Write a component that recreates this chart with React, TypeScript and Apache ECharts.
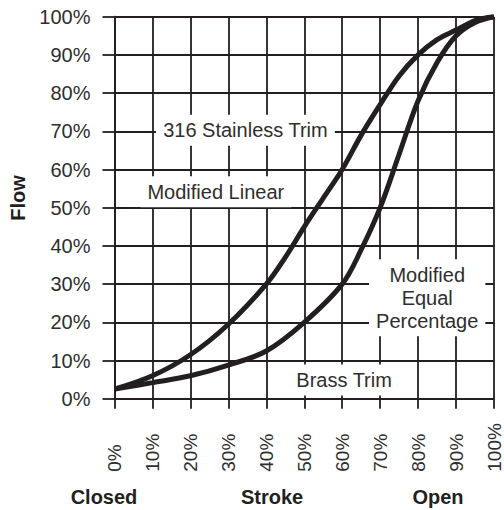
import React, { useEffect, useRef } from 'react';
import * as echarts from 'echarts';

// Modified Linear / 316 Stainless Trim curve
const linearStroke = [0, 10, 20, 30, 40, 45, 50, 55, 60, 65, 70, 75, 80, 85, 90, 95, 100];
const linearFlow = [2.5, 6, 11.5, 19.5, 30, 37, 45, 52.5, 60, 69, 77, 84.5, 90, 94, 96.5, 99, 100];

// Modified Equal Percentage / Brass Trim curve
const equalStroke = [0, 10, 20, 30, 40, 50, 60, 65, 70, 75, 80, 85, 90, 95, 100];
const equalFlow = [2.5, 4.2, 6, 8.8, 12.5, 20, 30, 39, 50, 64, 78, 88, 95, 98.5, 100];

// Annotations (data coordinates: stroke %, flow %)
const annotationText = ['316 Stainless Trim', 'Modified Linear', 'Modified\nEqual\nPercentage', 'Brass Trim'];
const annotationX = [34.5, 26.7, 82.4, 60.5];
const annotationY = [70.3, 54.2, 26.4, 4.9];

// Axis ticks
const axisMin = 0;
const axisMax = 100;
const axisStep = 10;

const bottomLabels = ['Closed', 'Stroke', 'Open'];
const bottomLabelX = [104, 272, 438];

const INK = '#231f20';
const TEXT = '#2e2e2e';
const FONT = '"Liberation Sans", Arial, Helvetica, sans-serif';

export default function App() {
  const ref = useRef<HTMLDivElement>(null);

  useEffect(() => {
    if (!ref.current) return;
    const chart = echarts.init(ref.current, undefined, { renderer: 'svg' });

    const lineStyle = { color: INK, width: 1.8 };

    const fixedGraphics: any[] = [
      {
        type: 'text',
        x: 18,
        y: 198,
        rotation: Math.PI / 2,
        style: {
          text: 'Flow',
          fontFamily: FONT,
          fontSize: 20,
          fontWeight: 'bold',
          fill: INK,
          align: 'center',
          verticalAlign: 'middle',
        },
      },
      ...bottomLabels.map((t, i) => ({
        type: 'text',
        x: bottomLabelX[i],
        y: 497,
        style: {
          text: t,
          fontFamily: FONT,
          fontSize: 20,
          fontWeight: 'bold',
          fill: INK,
          align: 'center',
          verticalAlign: 'middle',
        },
      })),
    ];

    const option: any = {
      animation: false,
      backgroundColor: '#ffffff',
      grid: { left: 114.5, right: 10, top: 16.7, bottom: 111.3, containLabel: false, outerBoundsMode: 'none' },
      xAxis: {
        type: 'value',
        min: axisMin,
        max: axisMax,
        interval: axisStep,
        axisLine: { show: true, lineStyle },
        axisTick: { show: true, length: 10, inside: false, lineStyle },
        splitLine: { show: true, lineStyle },
        axisLabel: {
          rotate: 90,
          align: 'left',
          verticalAlign: 'middle',
          margin: 73,
          lineHeight: 15,
          formatter: '{value}%',
          fontFamily: FONT,
          fontSize: 19,
          color: TEXT,
        },
      },
      yAxis: {
        type: 'value',
        min: axisMin,
        max: axisMax,
        interval: axisStep,
        axisLine: { show: true, lineStyle },
        axisTick: { show: true, length: 12, inside: false, lineStyle },
        splitLine: { show: true, lineStyle },
        axisLabel: {
          margin: 24,
          formatter: '{value}%',
          fontFamily: FONT,
          fontSize: 20,
          color: TEXT,
        },
      },
      series: [
        {
          type: 'line',
          name: 'Modified Linear',
          data: linearStroke.map((s, i) => [s, linearFlow[i]]),
          smooth: 0.35,
          showSymbol: false,
          symbol: 'none',
          lineStyle: { color: INK, width: 5 },
          z: 3,
        },
        {
          type: 'line',
          name: 'Modified Equal Percentage',
          data: equalStroke.map((s, i) => [s, equalFlow[i]]),
          smooth: 0.35,
          showSymbol: false,
          symbol: 'none',
          lineStyle: { color: INK, width: 5 },
          z: 3,
        },
      ],
      graphic: fixedGraphics,
    };

    chart.setOption(option);

    const annotationGraphics = annotationText.map((t, i) => {
      const p = chart.convertToPixel({ gridIndex: 0 }, [annotationX[i], annotationY[i]]) as number[];
      return {
        type: 'text',
        x: p[0],
        y: p[1],
        z: 100,
        style: {
          text: t,
          fontFamily: FONT,
          fontSize: 20,
          lineHeight: 23,
          fill: TEXT,
          backgroundColor: '#ffffff',
          padding: [4, 7],
          align: 'center',
          verticalAlign: 'middle',
        },
      };
    });

    chart.setOption({ graphic: [...fixedGraphics, ...annotationGraphics] });

    return () => chart.dispose();
  }, []);

  return (
    <div
      ref={ref}
      style={{ position: 'fixed', left: 0, top: 0, width: 504, height: 510, background: '#fff' }}
    />
  );
}
